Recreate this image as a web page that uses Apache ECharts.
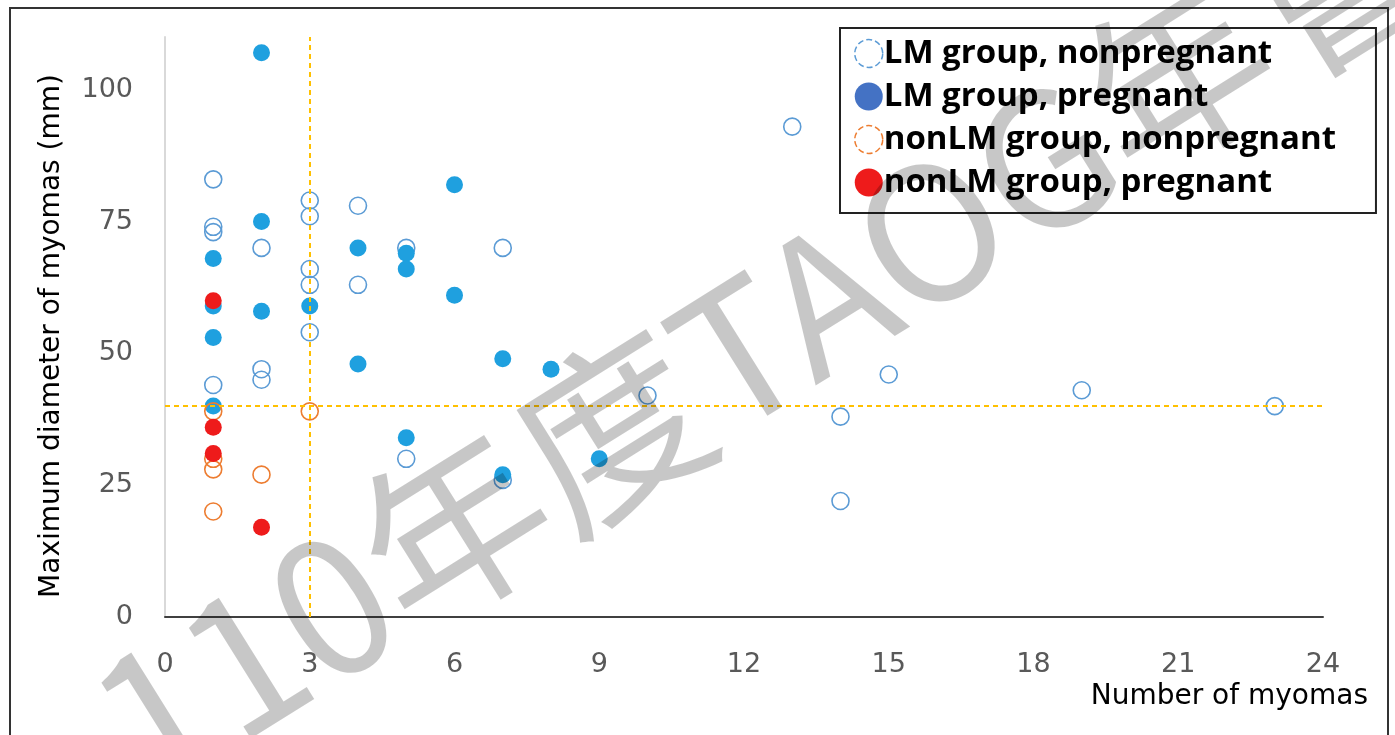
<!DOCTYPE html>
<html>
<head>
<meta charset="utf-8">
<script src="https://cdn.jsdelivr.net/npm/echarts@6/dist/echarts.min.js"></script>
<style>html,body{margin:0;padding:0;background:#fff}#c{width:1395px;height:735px}</style>
</head>
<body>
<div id="c"></div>
<script>
// ---- data: [number of myomas, max diameter (mm)] ----
var lmNonPregnant = [[1,83],[1,74],[1,73],[1,44],[2,70],[2,47],[2,45],[3,79],[3,76],[3,66],[3,63],[3,54],[4,78],[4,63],[5,70],[5,30],[7,70],[7,26],[10,42],[13,93],[14,38],[14,22],[15,46],[19,43],[23,40]];
var lmPregnant = [[1,68],[1,59],[1,53],[1,40],[2,107],[2,75],[2,58],[3,59],[4,70],[4,48],[5,69],[5,66],[5,34],[6,82],[6,61],[7,49],[7,27],[8,47],[9,30]];
var nonLmNonPregnant = [[1,39],[1,30],[1,28],[1,20],[2,27],[3,39]];
var nonLmPregnant = [[1,60],[1,36],[1,31],[2,17]];
var seriesNames = ['LM group, nonpregnant','LM group, pregnant','nonLM group, nonpregnant','nonLM group, pregnant'];
var xTicks = [0,3,6,9,12,15,18,21,24];
var yTicks = [0,25,50,75,100];
var yMax = 110;
var cutoffX = 3, cutoffY = 40;
var xName = 'Number of myomas';
var yName = 'Maximum diameter of myomas (mm)';
var watermark = '110年度TAOG年會專刊';

var chart = echarts.init(document.getElementById('c'));
var openBlue = '#5b9bd5', fillBlue = '#1fa0df', openOrange = '#ed7d31', fillRed = '#ee1b1b';
var option = {
  animation: false,
  backgroundColor: '#fff',
  grid: {left: 165, right: 72, top: 37, bottom: 118},
  xAxis: {
    type: 'value', min: xTicks[0], max: xTicks[xTicks.length-1], interval: xTicks[1]-xTicks[0],
    axisLine: {show: true, lineStyle: {color: '#404040', width: 2}},
    axisTick: {show: false}, splitLine: {show: false},
    axisLabel: {color: '#595959', fontSize: 27, fontFamily: 'DejaVu Sans', margin: 34}
  },
  yAxis: {
    type: 'value', min: yTicks[0], max: yMax, interval: yTicks[1]-yTicks[0],
    axisLine: {show: true, lineStyle: {color: '#d9d9d9', width: 2}},
    axisTick: {show: false}, splitLine: {show: false},
    axisLabel: {color: '#595959', fontSize: 27, fontFamily: 'DejaVu Sans', margin: 32, showMaxLabel: false}
  },
  legend: {
    orient: 'vertical', left: 840, top: 28,
    backgroundColor: '#fff', borderColor: '#222', borderWidth: 2,
    padding: [9, 40, 14, 14], itemGap: 10, itemWidth: 28, itemHeight: 28,
    textStyle: {color: '#000', fontSize: 33, fontWeight: 'bold', fontFamily: 'Open Sans', padding: [0,0,0,-4]},
    data: [
      {name: seriesNames[0], icon: 'circle', itemStyle: {color: 'rgba(0,0,0,0)', borderColor: openBlue, borderWidth: 1.5, borderType: 'dashed', opacity: 1}},
      {name: seriesNames[1], icon: 'circle', itemStyle: {color: '#4472c4', borderWidth: 0, opacity: 1}},
      {name: seriesNames[2], icon: 'circle', itemStyle: {color: 'rgba(0,0,0,0)', borderColor: openOrange, borderWidth: 1.5, borderType: 'dashed', opacity: 1}},
      {name: seriesNames[3], icon: 'circle', itemStyle: {color: fillRed, borderWidth: 0, opacity: 1}}
    ]
  },
  series: [
    {name: seriesNames[0], type: 'scatter', data: lmNonPregnant, symbolSize: 17,
     itemStyle: {color: 'rgba(0,0,0,0)', borderColor: openBlue, borderWidth: 1.6, opacity: 1},
     markLine: {silent: true, symbol: 'none', label: {show: false},
       lineStyle: {color: '#ffc000', width: 2, type: [5, 4]},
       data: [{xAxis: cutoffX}, [{coord: [xTicks[0], cutoffY]}, {coord: [xTicks[xTicks.length-1], cutoffY]}]]}},
    {name: seriesNames[1], type: 'scatter', data: lmPregnant, symbolSize: 17, itemStyle: {color: fillBlue, opacity: 1}},
    {name: seriesNames[2], type: 'scatter', data: nonLmNonPregnant, symbolSize: 17,
     itemStyle: {color: 'rgba(0,0,0,0)', borderColor: openOrange, borderWidth: 1.6, opacity: 1}},
    {name: seriesNames[3], type: 'scatter', data: nonLmPregnant, symbolSize: 17, itemStyle: {color: fillRed, opacity: 1}}
  ],
  graphic: [
    {type: 'text', x: 1368, y: 697, z: 10,
     style: {text: xName, fill: '#000', fontSize: 28, fontFamily: 'DejaVu Sans', textAlign: 'right', textVerticalAlign: 'middle', align: 'right', verticalAlign: 'middle'}},
    {type: 'text', x: 52, y: 336, z: 10, rotation: Math.PI / 2,
     style: {text: yName, fill: '#000', fontSize: 28, fontFamily: 'DejaVu Sans', textAlign: 'center', textVerticalAlign: 'middle', align: 'center', verticalAlign: 'middle'}},
    {type: 'rect', z: 50, silent: true, shape: {x: 10, y: 8, width: 1378, height: 800},
     style: {fill: 'none', stroke: '#333', lineWidth: 2}},
    {type: 'text', z: 100, silent: true, x: 112, y: 742, rotation: 32 * Math.PI / 180,
     style: {text: watermark, fill: 'rgba(0,0,0,0.22)', fontSize: 186, fontFamily: 'Noto Sans CJK TC',
             textAlign: 'left', textVerticalAlign: 'middle', align: 'left', verticalAlign: 'middle'}}
  ]
};
chart.setOption(option);
</script>
</body>
</html>
